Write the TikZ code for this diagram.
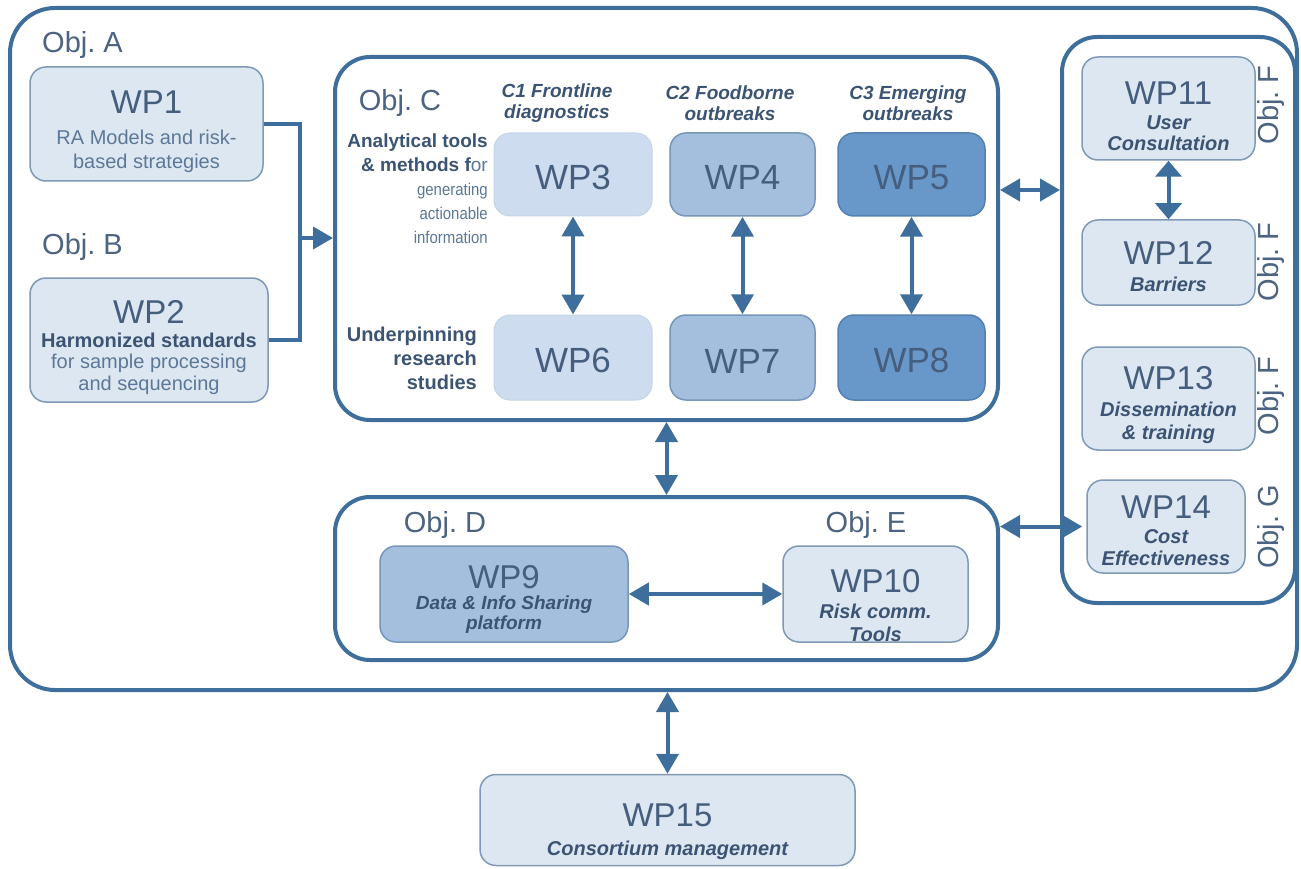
\documentclass[tikz,border=0pt]{standalone}
\usepackage{fontspec}
\setmainfont{Liberation Sans}
\newfontfamily\narrowfont[FakeStretch=0.88]{Liberation Sans}
\usetikzlibrary{arrows.meta}
\definecolor{lc}{RGB}{62,110,155}
\definecolor{wptext}{RGB}{70,94,126}
\definecolor{subtext}{RGB}{92,120,152}
\definecolor{bitext}{RGB}{60,84,116}
\definecolor{objtext}{RGB}{76,100,130}
\definecolor{fillA}{RGB}{221,231,241}
\definecolor{drawA}{RGB}{128,154,182}
\definecolor{fillB}{RGB}{205,220,238}
\definecolor{fillC}{RGB}{163,191,221}
\definecolor{drawC}{RGB}{118,150,186}
\definecolor{fillD}{RGB}{104,152,202}
\definecolor{drawD}{RGB}{84,128,178}
\frenchspacing
\begin{document}
\begin{tikzpicture}[x=1pt,y=-1pt,
  frame/.style={draw=lc, line width=4pt, rounded corners=35pt, fill=none},
  boxA/.style={draw=drawA, line width=1.5pt, fill=fillA, rounded corners=16pt, text=wptext, align=center, inner sep=0pt},
  boxB/.style={draw=fillB!90!drawA, line width=1pt, fill=fillB, rounded corners=16pt, text=wptext, align=center, inner sep=0pt},
  boxC/.style={draw=drawC, line width=1.5pt, fill=fillC, rounded corners=16pt, text=wptext, align=center, inner sep=0pt},
  boxD/.style={draw=drawD, line width=1.5pt, fill=fillD, rounded corners=16pt, text=wptext, align=center, inner sep=0pt},
  bigwp/.style={font=\fontsize{35}{38}\selectfont},
  objlbl/.style={text=objtext, font=\fontsize{29}{32}\selectfont, inner sep=0pt},
  hdr/.style={text=bitext, font=\fontsize{19}{21}\selectfont\bfseries\itshape, align=center, inner sep=0pt},
  side/.style={text=subtext, font=\narrowfont\fontsize{17}{24}\selectfont, align=right, inner sep=0pt},
  conn/.style={draw=lc, line width=4pt},
  dbl/.style={conn, {Triangle[length=20pt,width=22pt]}-{Triangle[length=20pt,width=22pt]}},
  one/.style={conn, -{Triangle[length=20pt,width=22pt]}}
]
\newcommand\wpT[2]{{\fontsize{33}{33}\selectfont\rule{0pt}{#1pt}#2}}
\newcommand\bigT[1]{\rule{0pt}{31pt}#1}
\newcommand\subN[1]{{\color{subtext}#1}}
\newcommand\subBI[1]{{\color{bitext}\bfseries\itshape #1}}
\newcommand\sideB[1]{{\color{bitext}\rmfamily\fontsize{19}{24}\selectfont\bfseries #1}}
\useasboundingbox[fill=white] (0,0) rectangle (1301,869);

% outer frame
\node[frame, rounded corners=45pt, minimum width=1287pt, minimum height=682pt] (outer) at (653.5,349) {};

% Obj A / B
\node[objlbl, anchor=west] (oa) at (42,45) {Obj. A};
\node[objlbl, anchor=west] (ob) at (42,247) {Obj. B};
\node[boxA, minimum width=233pt, minimum height=114pt, font=\fontsize{20}{24}\selectfont] (wp1) at (146.5,124)
  {\wpT{38}{WP1}\\[7pt]\subN{RA Models and risk-}\\\subN{based strategies}};
\node[boxA, minimum width=238pt, minimum height=124pt, font=\fontsize{20}{21.5}\selectfont] (wp2) at (149,340)
  {\wpT{38}{WP2}\\[2pt]{\color{bitext}\bfseries Harmonized standards}\\\subN{for sample processing}\\\subN{and sequencing}};

% Obj C frame
\node[frame, minimum width=663pt, minimum height=363pt] (objC) at (666.5,238.5) {};
\node[objlbl] (oc) at (400,103) {Obj. C};
\node[hdr] (c1) at (557,103) {C1 Frontline\\diagnostics};
\node[hdr] (c2) at (730,103) {C2 Foodborne\\outbreaks};
\node[hdr] (c3) at (908,103) {C3 Emerging\\outbreaks};
\node[side, anchor=east] (lab1) at (488,189)
  {\sideB{Analytical tools}\\\sideB{\& methods f}{\rmfamily\fontsize{19}{24}\selectfont or}\\generating\\actionable\\information};
\node[side, anchor=east, text=bitext, font=\fontsize{20}{24}\selectfont\bfseries] (lab2) at (477,358)
  {Underpinning\\research\\studies};

\node[boxB, bigwp, minimum width=158pt, minimum height=83pt] (wp3) at (573,174.5) {\bigT{WP3}};
\node[boxC, bigwp, minimum width=145pt, minimum height=83pt] (wp4) at (742.5,174.5) {\bigT{WP4}};
\node[boxD, bigwp, minimum width=147pt, minimum height=83pt] (wp5) at (911.5,174.5) {\bigT{WP5}};
\node[boxB, bigwp, minimum width=158pt, minimum height=85pt] (wp6) at (573,357.5) {\bigT{WP6}};
\node[boxC, bigwp, minimum width=145pt, minimum height=85pt] (wp7) at (742.5,357.5) {\bigT{WP7}};
\node[boxD, bigwp, minimum width=147pt, minimum height=85pt] (wp8) at (911.5,357.5) {\bigT{WP8}};

\draw[dbl] (wp3.south) -- (wp6.north);
\draw[dbl] (wp4.south) -- (wp7.north);
\draw[dbl] (wp5.south) -- (wp8.north);

% WP1/WP2 merge
\coordinate (j) at (300,238);
\draw[conn] (wp1.east) -| (j);
\draw[conn] (wp2.east) -| (j);
\draw[one] (j) -- (objC.west |- j);

% right frame
\node[frame, minimum width=233pt, minimum height=566pt] (right) at (1178.5,320) {};
\node[boxA, minimum width=173pt, minimum height=103pt, font=\fontsize{20}{21}\selectfont] (wp11) at (1168.5,108.5)
  {\wpT{38}{WP11}\\[4pt]\subBI{User}\\\subBI{Consultation}};
\node[boxA, minimum width=173pt, minimum height=85pt, font=\fontsize{20}{21}\selectfont] (wp12) at (1168.5,262.5)
  {\wpT{32}{WP12}\\[6pt]\subBI{Barriers}};
\node[boxA, minimum width=173pt, minimum height=103pt, font=\fontsize{20}{23}\selectfont] (wp13) at (1168.5,398.5)
  {\wpT{36}{WP13}\\[4pt]\subBI{Dissemination}\\\subBI{\& training}};
\node[boxA, minimum width=158pt, minimum height=93pt, font=\fontsize{20}{22}\selectfont] (wp14) at (1166,526.5)
  {\wpT{32}{WP14}\\[3pt]\subBI{Cost}\\\subBI{Effectiveness}};
\node[objlbl, rotate=90] (of1) at (1271,105) {Obj. F};
\node[objlbl, rotate=90] (of2) at (1271,262) {Obj. F};
\node[objlbl, rotate=90] (of3) at (1271,396) {Obj. F};
\node[objlbl, rotate=90] (og) at (1271,527) {Obj. G};
\draw[conn, {Triangle[length=16pt,width=26pt]}-{Triangle[length=16pt,width=26pt]}] (wp11.south) -- (wp12.north);

\coordinate (cy) at (0,190);
\draw[dbl] (objC.east |- cy) -- (right.west |- cy);

% Obj D frame
\node[frame, minimum width=663pt, minimum height=163pt] (objD) at (666.5,578.5) {};
\node[objlbl] (od) at (445,525) {Obj. D};
\node[objlbl] (oe) at (866,525) {Obj. E};
\node[boxC, minimum width=248pt, minimum height=96pt, font=\fontsize{19}{20}\selectfont] (wp9) at (504,594)
  {\wpT{34}{WP9}\\[1pt]\subBI{Data \& Info Sharing}\\\subBI{platform}};
\node[boxA, minimum width=185pt, minimum height=96pt, font=\fontsize{20}{23}\selectfont] (wp10) at (875.5,594)
  {\wpT{46}{WP10}\\[3pt]\subBI{Risk comm.}\\\subBI{Tools}};
\draw[dbl] (wp9.east) -- (wp10.west);

\draw[dbl] (objC.south) -- (objD.north);
\draw[dbl, shorten >=4pt] (objD.east |- wp14.west) -- (wp14.west);

% WP15
\node[boxA, minimum width=375pt, minimum height=91pt, font=\fontsize{20}{23}\selectfont] (wp15) at (667.5,820)
  {\wpT{46}{WP15}\\[6pt]\subBI{Consortium management}};
\draw[dbl] (wp15.north |- outer.south) -- (wp15.north);
\end{tikzpicture}
\end{document}
